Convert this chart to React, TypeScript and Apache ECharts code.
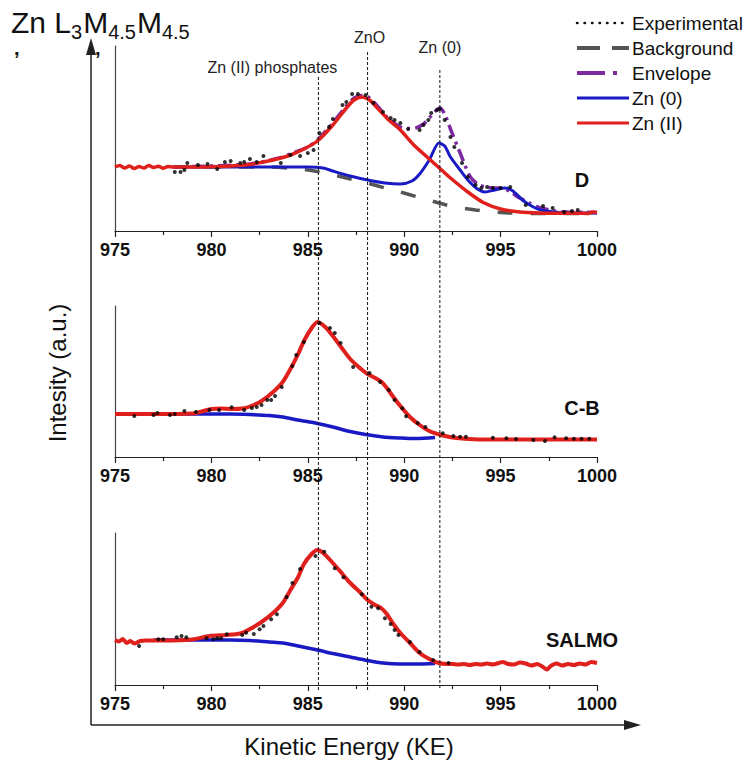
import React, { useEffect, useRef } from "react";
import * as echarts from "echarts";

type P = [number, number];

const xMin = 975;
const xMax = 1000;
const xStep = 5;
const refLines = [985.55, 988.1, 991.85];
const refLabels = ["Zn (II) phosphates", "ZnO", "Zn (0)"];
const panelLabels = ["D", "C-B", "SALMO"];
const legendNames = ["Experimental", "Background", "Envelope", "Zn (0)", "Zn (II)"];
const titleParts: [string, boolean][] = [["Zn L", false], ["3", true], ["M", false], ["4.5", true], ["M", false], ["4.5", true]];

// ---------- Panel D ----------
const dRed: P[] = [[975,64],[975.25,65.5],[975.5,63],[975.75,65],[976,62.5],[976.25,64.5],[976.5,63],[976.75,65.5],[977,63.5],[977.25,64.8],[977.5,62.8],[977.75,64.5],[978,64],[979,64],[980,64.2],[981,65],[982,66.5],[982.7,69],[983.5,72.5],[984.1,76],[984.8,82],[985.5,90],[986.3,106],[987,123],[987.4,131],[987.8,134],[988.2,131],[988.7,121],[989.2,111],[989.8,101],[990.5,86],[991.3,72],[992,60],[992.4,53],[993.3,39],[994.1,28.5],[995,22],[996,19],[997,18],[998,17.8],[999,17.8],[999.5,17.5],[999.8,19],[1000,18.5]];
const dBlue: P[] = [[978,64],[980,64],[985,64],[985.8,63],[986.3,60],[987.2,55],[988.1,51],[989,48],[989.8,47],[990.4,50],[990.8,57],[991.3,71],[991.8,88],[992.1,85],[992.4,74],[992.9,61],[993.3,51],[993.8,42],[994.2,39],[994.7,41],[995.2,43],[995.6,40.5],[996.2,30],[996.7,24],[997.1,21],[997.8,19],[998.5,18],[1000,18]];
const dBackground: P[] = [[978,64],[983,64],[984,63],[985,61],[986,57.5],[987,53],[988,48.5],[989,43],[989.8,39],[990.7,34],[991.8,28],[992.5,24.5],[993.7,21],[994.6,19],[995.5,18],[997,17.5],[1000,17.5]];
const dEnvelope: P[] = [[979,64.5],[982,67],[983.5,73],[984.1,77],[985,84],[985.5,91],[986.3,108],[987,125],[987.4,133],[987.8,135.5],[988.2,133],[988.7,123],[989.2,112],[989.8,104],[990.2,102.5],[990.6,103],[991,107],[991.3,113],[991.85,123],[992.1,117],[992.4,102],[992.9,78],[993.4,55],[993.8,47],[994.2,44],[994.6,43],[995,43],[995.5,39.5],[995.9,34],[996.5,28],[997.1,23],[997.8,20],[998.5,19],[1000,18.5]];
const dExp: P[] = [[978.1,59],[978.4,59],[978.6,61],[978.75,68],[979.3,66],[979.8,67],[980.3,62],[980.7,69],[981,70],[981.5,68],[981.7,69],[982,72],[982.35,69],[982.7,75],[983.6,68],[984.1,76],[984.6,75],[985,78],[985.3,81],[985.6,98],[986.1,104],[986.3,112],[986.8,126],[987,129],[987.3,137],[987.6,137],[988,136],[988.4,128],[988.9,119],[989.3,113],[989.5,111],[989.8,108],[990.2,102],[990.8,101],[991,106],[991.25,111],[991.4,118],[991.7,121],[991.85,122],[992.1,111],[992.4,94],[992.6,84],[993,68],[993.3,54],[993.7,46],[994,43],[994.3,44],[994.6,43],[995,43],[995.5,44],[996.3,26],[997.2,25],[997.7,23],[998.3,19],[998.7,20],[999,21]];

// ---------- Panel C-B ----------
const cbRed: P[] = [[975,43],[977,43],[979,43.5],[979.5,45.5],[980,48],[980.5,48.5],[981.1,48],[981.6,48.5],[982,50.5],[982.6,56],[983.2,65],[983.7,75],[984.1,88],[984.5,103],[984.8,116],[985.2,129],[985.5,135],[985.9,130],[986.3,121],[986.8,108],[987.2,98],[987.7,89],[988.1,83],[988.5,79],[988.8,75.5],[989.1,69],[989.4,61],[989.8,51],[990.3,40],[990.8,32],[991.3,26],[991.9,22],[992.5,19.5],[993,18.5],[994,17.5],[1000,17.5]];
const cbBlue: P[] = [[977,43],[981,43],[982,42.5],[983,41.5],[983.7,40],[984.5,37],[985.5,33.5],[986.3,30],[987.2,25.5],[988,22.5],[988.9,20],[989.8,19],[990.6,18.5],[991.6,19.5]];
const cbExp: P[] = [[976,41],[977,42],[977.2,44],[977.85,42],[978.1,43],[978.6,46],[979.2,45],[979.9,47],[980.4,47],[981.05,49.7],[981.7,47],[982.1,49],[982.35,50],[982.6,52],[982.9,57],[983.1,57],[983.3,61],[983.65,70],[984.2,91],[984.4,102],[984.8,115],[985.6,134],[986.15,129],[986.4,124],[986.7,114],[987.35,90],[988.2,84],[988.75,75],[989.2,67],[989.5,57],[989.9,48.7],[990.1,40.7],[990.7,34],[991.1,30],[992,23.7],[992.55,21],[992.9,20.3],[993.2,20.3],[994.6,19.3],[995.3,18.7],[995.8,18],[996.7,17],[997.3,16],[997.8,19.7],[998.4,18.7],[998.8,18.3],[999.2,18.3],[999.6,18.3]];

// ---------- Panel SALMO ----------
const sRed: P[] = [[975,45],[975.2,43.5],[975.4,46],[975.6,42],[975.8,44],[976,41.5],[976.3,44],[976.6,44.5],[977.5,44.5],[979,45.5],[979.9,49],[980.8,50],[981.5,51.5],[982,56],[982.6,63],[983.2,72],[983.7,82],[984.1,95],[984.5,108],[984.8,121],[985.2,131],[985.5,135],[985.8,132],[986.3,122],[986.8,111],[987.2,102],[987.7,93],[988.1,85],[988.5,80],[988.8,77],[989.1,71],[989.4,62],[989.8,52],[990.3,42],[990.8,32],[991.3,26],[991.7,22.5],[992.2,21],[992.5,21],[992.8,20.5],[993.1,21],[993.4,20],[993.7,21],[994,20.5],[994.3,21.5],[994.6,20.5],[994.9,22],[995.1,23],[995.4,21],[995.7,20.5],[996,22.5],[996.3,21.5],[996.6,19.5],[996.9,21],[997.2,18],[997.4,15.5],[997.6,19],[997.9,21.5],[998.2,19.5],[998.5,21],[998.8,20],[999.1,21.5],[999.4,20.5],[999.7,23],[1000,22]];
const sBlue: P[] = [[977,45],[981,45],[982,44.5],[983,43],[983.7,42],[984.5,39],[985.5,35],[986.3,31.5],[987.2,28],[988.1,24.5],[988.9,22],[989.8,21],[990.6,21],[991.6,21.5]];
const sExp: P[] = [[976.25,39],[977.25,45.7],[977.5,45.7],[978.2,47.7],[978.45,49],[978.7,47.7],[979.75,46.7],[980.1,45.7],[980.3,46.7],[980.5,46.7],[980.8,50.7],[981.6,50],[981.8,52.3],[982.2,51],[982.5,55.7],[982.7,59],[983.1,65.7],[983.4,70.7],[983.9,88],[984.2,102],[984.6,116],[985.4,129],[985.85,133.3],[986.4,116.7],[986.85,107.7],[987.8,90.7],[988.3,78.3],[988.65,76.7],[989,66.7],[989.3,61],[989.5,55],[989.7,50],[990.3,43],[990.8,33],[991.5,25],[992.3,22]];

const yMaxes = [185, 151, 152];
const FONT = "'Liberation Sans', Arial, Helvetica, sans-serif";
const RED = "#e0201c";
const BLUE = "#1a1ac4";
const GRAY = "#555555";
const PURPLE = "#7d2aa0";

const grids = [
  { left: 115, width: 482, top: 46, height: 185 },
  { left: 115, width: 482, top: 306, height: 151 },
  { left: 115, width: 482, top: 533, height: 152 },
];

function lineSeries(idx: number, data: P[], color: string, width: number, type: any = "solid", z = 2) {
  return {
    type: "line",
    xAxisIndex: idx,
    yAxisIndex: idx,
    data,
    smooth: 0.25,
    showSymbol: false,
    symbol: "none",
    z,
    lineStyle: { color, width, type, cap: "butt" },
  };
}
function dotSeries(idx: number, data: P[]) {
  return {
    type: "scatter",
    xAxisIndex: idx,
    yAxisIndex: idx,
    data,
    symbol: "circle",
    symbolSize: 4,
    z: 5,
    itemStyle: { color: "#000" },
  };
}

export default function App() {
  const ref = useRef<HTMLDivElement>(null);
  useEffect(() => {
    document.body.style.margin = "0";
    if (!ref.current) return;
    const chart = echarts.init(ref.current, undefined, { renderer: "svg" });
    const xAxes = grids.map((_, i) => ({
      type: "value",
      gridIndex: i,
      min: xMin,
      max: xMax,
      interval: xStep,
      axisLine: { show: true, lineStyle: { color: "#222", width: 1.2 } },
      axisTick: { show: true, length: 6, lineStyle: { color: "#222", width: 1.2 } },
      minorTick: { show: true, splitNumber: 2, length: 4, lineStyle: { color: "#222", width: 1.2 } },
      splitLine: { show: false },
      minorSplitLine: { show: false },
      axisLabel: {
        fontFamily: FONT, fontSize: 18, fontWeight: "bold", color: "#111", margin: 10,
        formatter: (v: number) => String(v),
      },
    }));
    const yAxes = grids.map((_, i) => ({
      type: "value",
      gridIndex: i,
      min: 0,
      max: yMaxes[i],
      axisLine: { show: true, lineStyle: { color: "#444", width: 1.2 } },
      axisTick: { show: false },
      axisLabel: { show: false },
      splitLine: { show: false },
    }));
    const series: any[] = [
      lineSeries(0, dBackground, GRAY, 3.5, [15, 18]),
      lineSeries(0, dEnvelope, PURPLE, 3.5, [13, 5, 3, 5]),
      lineSeries(0, dBlue, BLUE, 3),
      lineSeries(0, dRed, RED, 3.5),
      dotSeries(0, dExp),
      lineSeries(1, cbBlue, BLUE, 3.5),
      lineSeries(1, cbRed, RED, 4),
      dotSeries(1, cbExp),
      lineSeries(2, sBlue, BLUE, 3.5),
      lineSeries(2, sRed, RED, 4),
      dotSeries(2, sExp),
    ];
    chart.setOption({
      animation: false,
      grid: grids,
      xAxis: xAxes,
      yAxis: yAxes,
      series,
    });

    const g: any[] = [];
    const txt = (x: number, y: number, text: string, size: number, opts: any = {}) => ({
      type: "text",
      x,
      y,
      rotation: opts.rotation || 0,
      z: 20,
      style: {
        text,
        fill: opts.fill || "#111",
        font: `${opts.weight || "normal"} ${size}px ${FONT}`,
        align: opts.align || "left",
        textAlign: opts.align || "left",
        verticalAlign: "middle",
        textVerticalAlign: "middle",
      },
    });

    // title with subscripts, laid out by measured widths
    const ctx = document.createElement("canvas").getContext("2d");
    let tx = 11;
    titleParts.forEach(([t, sub]) => {
      const size = sub ? 20 : 30;
      g.push(txt(tx, sub ? 32 : 22, t, size));
      let w = t.length * size * 0.55;
      if (ctx) {
        ctx.font = `${size}px ${FONT}`;
        w = ctx.measureText(t).width;
      }
      tx += w + (sub ? 1 : 0);
    });
    g.push(txt(14, 48, ",", 20, { weight: "bold" }));
    g.push(txt(95, 48, ",", 20, { weight: "bold" }));

    // main L axis with arrows
    g.push({ type: "line", z: 15, shape: { x1: 91, y1: 725, x2: 628, y2: 725 }, style: { stroke: "#222", lineWidth: 1.5 } });
    g.push({ type: "polygon", z: 15, shape: { points: [[641, 725], [624, 720], [624, 730]] }, style: { fill: "#222" } });
    g.push({ type: "line", z: 15, shape: { x1: 91, y1: 725, x2: 91, y2: 52 }, style: { stroke: "#222", lineWidth: 1.5 } });
    g.push({ type: "polygon", z: 15, shape: { points: [[91, 38], [86, 55], [96, 55]] }, style: { fill: "#222" } });

    // axis titles
    g.push(txt(349, 746, "Kinetic Energy (KE)", 24, { align: "center" }));
    g.push(txt(57, 373, "Intesity (a.u.)", 24, { align: "center", rotation: Math.PI / 2 }));

    // reference dotted lines
    const tops = [77, 52, 70];
    const labelDx = [-46, 2, 0];
    const labelY = [67, 37, 47];
    refLines.forEach((v, i) => {
      const px = chart.convertToPixel({ xAxisIndex: 0 } as any, v) as number;
      g.push({ type: "line", z: 12, shape: { x1: px, y1: tops[i], x2: px, y2: 690 }, style: { stroke: "#111", lineWidth: 1, lineDash: [3, 2] } });
      g.push(txt(px + labelDx[i], labelY[i], refLabels[i], 16, { align: "center", fill: "#222" }));
    });

    // panel labels
    const labelYs = [180, 408, 640];
    panelLabels.forEach((l, i) => g.push(txt(582, labelYs[i], l, 20, { align: "center", weight: "bold" })));

    // legend
    const ly = [23, 48, 73, 98, 123];
    const lx1 = 577, lx2 = 629;
    const legendStyles: any[] = [
      { stroke: "#111", lineWidth: 2.5, lineDash: [0.5, 7], lineCap: "round" },
      { stroke: GRAY, lineWidth: 4, lineDash: [23, 12] },
      { stroke: PURPLE, lineWidth: 4, lineDash: [28, 8, 4, 20] },
      { stroke: BLUE, lineWidth: 3 },
      { stroke: RED, lineWidth: 3 },
    ];
    legendNames.forEach((n, i) => {
      g.push({ type: "line", z: 20, shape: { x1: lx1, y1: ly[i], x2: lx2, y2: ly[i] }, style: legendStyles[i] });
      g.push(txt(632, ly[i], n, 19));
    });

    chart.setOption({ graphic: g });
    return () => chart.dispose();
  }, []);
  return <div ref={ref} style={{ width: 755, height: 760 }} />;
}
